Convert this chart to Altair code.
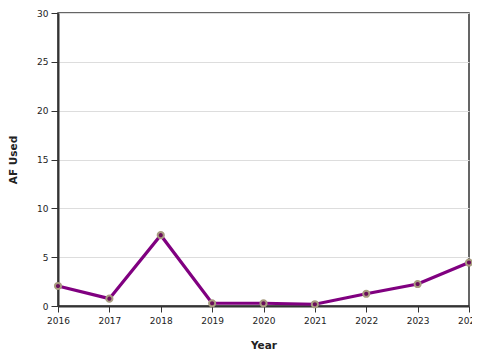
import altair as alt
import pandas as pd

years = [2016, 2017, 2018, 2019, 2020, 2021, 2022, 2023, 2024]
af_used = [2.05, 0.75, 7.25, 0.28, 0.28, 0.18, 1.25, 2.25, 4.45]
y_ticks = [0, 5, 10, 15, 20, 25, 30]

df = pd.DataFrame({"Year": years, "AF Used": af_used})

x = alt.X("Year:Q", title="Year",
          scale=alt.Scale(domain=[2016, 2024], nice=False, zero=False),
          axis=alt.Axis(format="d", values=years, grid=False, tickSize=6,
                        domainWidth=2, domainColor="#333", tickColor="#333",
                        labelFlush=False, labelOverlap=False,
                        labelFont="DejaVu Sans", labelFontSize=9, labelColor="#222",
                        titleFont="DejaVu Sans", titleFontSize=10.5, titleFontWeight="bold",
                        titleColor="#222", labelPadding=4, titlePadding=15))
y = alt.Y("AF Used:Q", title="AF Used",
          scale=alt.Scale(domain=[0, 30], nice=False),
          axis=alt.Axis(values=y_ticks, grid=True, gridColor="#dddddd",
                        tickSize=7, domainWidth=2, domainColor="#333", tickColor="#333",
                        labelFlush=False,
                        labelFont="DejaVu Sans", labelFontSize=9, labelColor="#222",
                        titleFont="DejaVu Sans", titleFontSize=10.5, titleFontWeight="bold",
                        titleColor="#222", labelPadding=3, titlePadding=18))

line = alt.Chart(df).mark_line(color="#800080", strokeWidth=3.2).encode(x=x, y=y)
pts = alt.Chart(df).mark_point(filled=True, fill="#6a0f5a", stroke="#a89c80",
                               strokeWidth=2, size=38, opacity=1).encode(x=x, y=y)

chart = (line + pts).properties(
    width=411, height=293,
    autosize=alt.AutoSizeParams(type="none"),
    padding={"left": 50, "top": 5, "right": 3, "bottom": 44},
).configure_view(stroke="#333", strokeWidth=1.5)

chart.save("out.html", embed_options={"renderer": "svg", "actions": False})
